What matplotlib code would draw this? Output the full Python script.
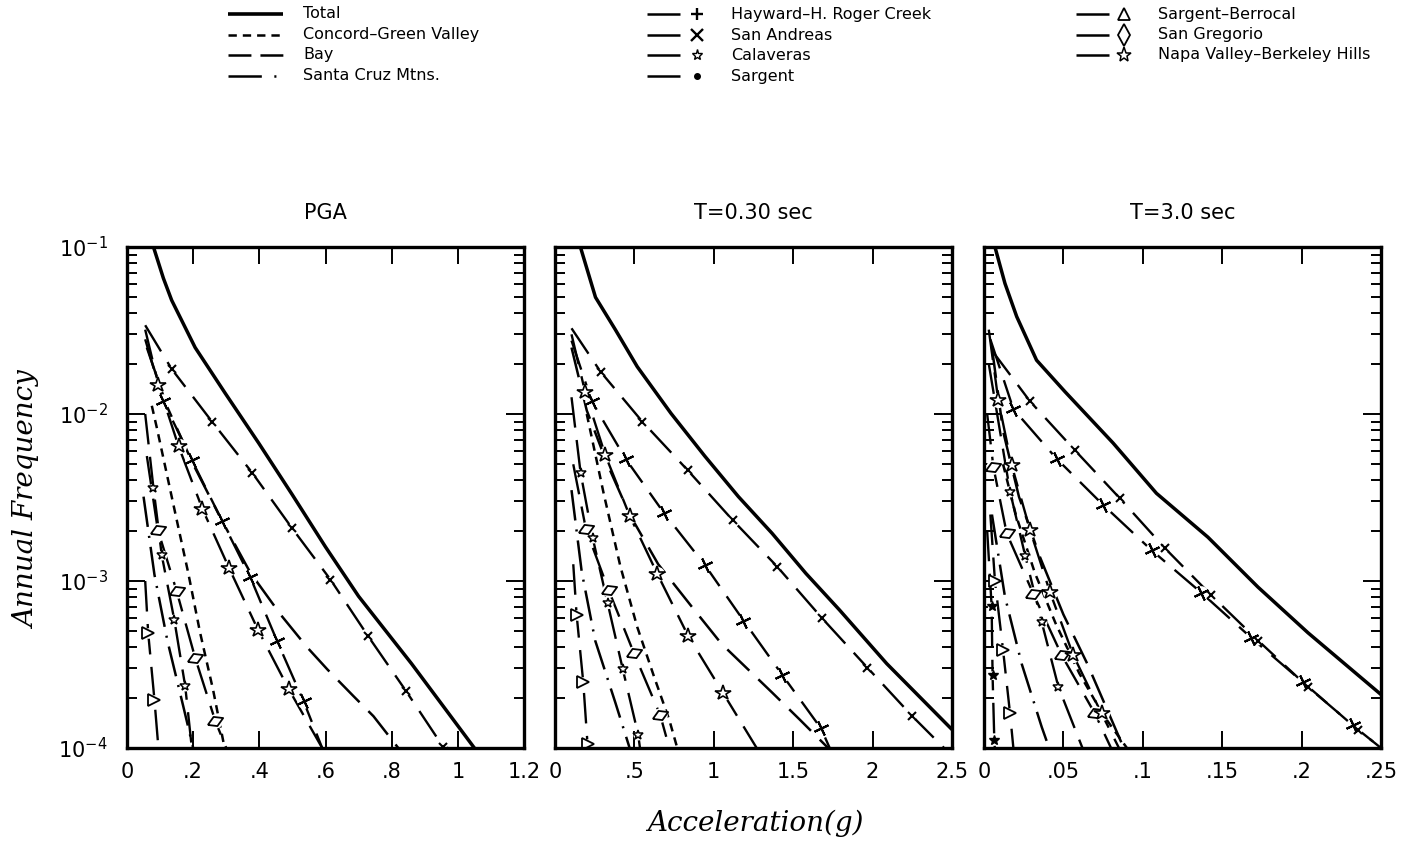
import numpy as np
import matplotlib
matplotlib.use("Agg")
import matplotlib.pyplot as plt
from matplotlib.ticker import LogLocator, NullFormatter

plt.rcParams['lines.scale_dashes'] = False
plt.rcParams['font.family'] = ['DejaVu Sans']
plt.rcParams['mathtext.default'] = 'regular'

# ---------------------------------------------------------------- data
# Hazard curves: acceleration (g) against annual frequency of exceedance.

# PGA
PGA_TOTAL_ACC = [0.08, 0.11, 0.135, 0.206, 0.297, 0.398, 0.499, 0.60, 0.70, 0.86, 1.05]
PGA_TOTAL_FREQ = [1.0e-1, 6.5e-2, 4.8e-2, 2.5e-2, 1.33e-2, 6.7e-3, 3.3e-3, 1.6e-3, 8.1e-4, 3.2e-4, 1.0e-4]
PGA_HAYWARD_ACC = [0.055, 0.135, 0.257, 0.378, 0.499, 0.615, 0.728, 0.843, 0.955, 0.97]
PGA_HAYWARD_FREQ = [3.4e-2, 1.86e-2, 9.0e-3, 4.46e-3, 2.07e-3, 1.02e-3, 4.7e-4, 2.2e-4, 1.02e-4, 1.0e-4]
PGA_SANANDREAS_ACC = [0.055, 0.11, 0.196, 0.287, 0.373, 0.453, 0.534, 0.59]
PGA_SANANDREAS_FREQ = [2.8e-2, 1.19e-2, 5.3e-3, 2.3e-3, 1.05e-3, 4.4e-4, 1.9e-4, 1.0e-4]
PGA_NAPA_ACC = [0.055, 0.095, 0.156, 0.228, 0.309, 0.396, 0.489, 0.59]
PGA_NAPA_FREQ = [3.2e-2, 1.5e-2, 6.4e-3, 2.7e-3, 1.19e-3, 5.1e-4, 2.25e-4, 1.0e-4]
PGA_BAY_ACC = [0.06, 0.12, 0.20, 0.29, 0.373, 0.464, 0.545, 0.606, 0.685, 0.745, 0.82]
PGA_BAY_FREQ = [2.5e-2, 1.12e-2, 5.0e-3, 2.24e-3, 1.12e-3, 6.3e-4, 4.0e-4, 2.95e-4, 2.04e-4, 1.55e-4, 1.0e-4]
PGA_CONCORD_ACC = [0.075, 0.09, 0.146, 0.185, 0.221, 0.26, 0.295]
PGA_CONCORD_FREQ = [1.12e-2, 8.3e-3, 2.54e-3, 1.12e-3, 4.9e-4, 2.24e-4, 1.0e-4]
PGA_CALAVERAS_ACC = [0.055, 0.08, 0.105, 0.143, 0.176, 0.196]
PGA_CALAVERAS_FREQ = [1.0e-2, 3.6e-3, 1.43e-3, 5.85e-4, 2.34e-4, 1.0e-4]
PGA_GREGORIO_ACC = [0.06, 0.093, 0.15, 0.206, 0.267, 0.30]
PGA_GREGORIO_FREQ = [5.6e-3, 2.03e-3, 8.7e-4, 3.47e-4, 1.45e-4, 1.0e-4]
PGA_SANTACRUZ_ACC = [0.05, 0.083, 0.122, 0.17, 0.20]
PGA_SANTACRUZ_FREQ = [3.2e-3, 1.09e-3, 4.4e-4, 1.78e-4, 1.0e-4]
PGA_BERROCAL_ACC = [0.055, 0.064, 0.083, 0.095]
PGA_BERROCAL_FREQ = [1.0e-3, 4.9e-4, 1.94e-4, 1.0e-4]

# T = 0.30 sec
T03_TOTAL_ACC = [0.16, 0.255, 0.38, 0.518, 0.73, 0.943, 1.155, 1.367, 1.58, 1.792, 2.089, 2.5]
T03_TOTAL_FREQ = [1.0e-1, 5.0e-2, 3.2e-2, 1.92e-2, 1.01e-2, 5.6e-3, 3.2e-3, 1.93e-3, 1.11e-3, 6.7e-4, 3.2e-4, 1.29e-4]
T03_HAYWARD_ACC = [0.104, 0.287, 0.55, 0.836, 1.118, 1.399, 1.681, 1.967, 2.25, 2.45]
T03_HAYWARD_FREQ = [3.26e-2, 1.79e-2, 9.0e-3, 4.6e-3, 2.32e-3, 1.22e-3, 6.0e-4, 3.03e-4, 1.55e-4, 1.0e-4]
T03_SANANDREAS_ACC = [0.104, 0.232, 0.444, 0.688, 0.943, 1.187, 1.431, 1.675, 1.73]
T03_SANANDREAS_FREQ = [2.75e-2, 1.19e-2, 5.4e-3, 2.54e-3, 1.25e-3, 5.8e-4, 2.74e-4, 1.31e-4, 1.0e-4]
T03_NAPA_ACC = [0.104, 0.19, 0.316, 0.471, 0.645, 0.838, 1.059, 1.27]
T03_NAPA_FREQ = [3.0e-2, 1.35e-2, 5.7e-3, 2.45e-3, 1.1e-3, 4.7e-4, 2.13e-4, 1.0e-4]
T03_BAY_ACC = [0.104, 0.20, 0.33, 0.47, 0.65, 0.878, 1.049, 1.178, 1.369, 1.541, 1.72]
T03_BAY_FREQ = [2.5e-2, 1.05e-2, 5.0e-3, 2.5e-3, 1.26e-3, 6.7e-4, 4.2e-4, 3.2e-4, 2.14e-4, 1.48e-4, 1.0e-4]
T03_CONCORD_ACC = [0.20, 0.306, 0.412, 0.518, 0.624, 0.72, 0.77]
T03_CONCORD_FREQ = [1.0e-2, 3.36e-3, 1.22e-3, 5.3e-4, 2.67e-4, 1.47e-4, 1.0e-4]
T03_CALAVERAS_ACC = [0.104, 0.161, 0.238, 0.331, 0.427, 0.524, 0.535]
T03_CALAVERAS_FREQ = [1.26e-2, 4.46e-3, 1.8e-3, 7.4e-4, 2.96e-4, 1.2e-4, 1.0e-4]
T03_GREGORIO_ACC = [0.115, 0.195, 0.338, 0.497, 0.662, 0.72]
T03_GREGORIO_FREQ = [5.0e-3, 2.04e-3, 8.8e-4, 3.7e-4, 1.58e-4, 1.0e-4]
T03_SANTACRUZ_ACC = [0.104, 0.168, 0.253, 0.38, 0.47]
T03_SANTACRUZ_FREQ = [3.5e-3, 1.14e-3, 4.4e-4, 1.87e-4, 1.0e-4]
T03_BERROCAL_ACC = [0.115, 0.136, 0.178, 0.205, 0.21]
T03_BERROCAL_FREQ = [1.26e-3, 6.3e-4, 2.47e-4, 1.05e-4, 1.0e-4]

# T = 3.0 sec
T30_TOTAL_ACC = [0.0069, 0.0132, 0.0206, 0.0331, 0.051, 0.0813, 0.1086, 0.141, 0.1725, 0.204, 0.25]
T30_TOTAL_FREQ = [1.0e-1, 6.05e-2, 3.83e-2, 2.1e-2, 1.36e-2, 6.7e-3, 3.35e-3, 1.83e-3, 9.2e-4, 4.9e-4, 2.09e-4]
T30_HAYWARD_ACC = [0.005, 0.029, 0.057, 0.0855, 0.114, 0.1432, 0.1726, 0.204, 0.2355, 0.25]
T30_HAYWARD_FREQ = [2.4e-2, 1.19e-2, 6.1e-3, 3.13e-3, 1.57e-3, 8.2e-4, 4.4e-4, 2.32e-4, 1.29e-4, 1.0e-4]
T30_SANANDREAS_ACC = [0.004, 0.0185, 0.0457, 0.0751, 0.1055, 0.1369, 0.1684, 0.2008, 0.2321, 0.25]
T30_SANANDREAS_FREQ = [2.8e-2, 1.07e-2, 5.4e-3, 2.85e-3, 1.53e-3, 8.5e-4, 4.56e-4, 2.48e-4, 1.37e-4, 1.0e-4]
T30_NAPA_ACC = [0.003, 0.009, 0.0174, 0.029, 0.0415, 0.0562, 0.074, 0.085]
T30_NAPA_FREQ = [3.2e-2, 1.21e-2, 4.95e-3, 2.02e-3, 8.6e-4, 3.6e-4, 1.61e-4, 1.0e-4]
T30_BAY_ACC = [0.005, 0.012, 0.022, 0.035, 0.05, 0.065, 0.078, 0.088]
T30_BAY_FREQ = [2.5e-2, 7.9e-3, 3.2e-3, 1.41e-3, 6.3e-4, 3.2e-4, 1.66e-4, 1.0e-4]
T30_CONCORD_ACC = [0.012, 0.02, 0.032, 0.045, 0.06, 0.075, 0.09]
T30_CONCORD_FREQ = [5.0e-3, 2.5e-3, 1.12e-3, 5.6e-4, 2.8e-4, 1.58e-4, 1.0e-4]
T30_CALAVERAS_ACC = [0.003, 0.0164, 0.026, 0.0363, 0.0468, 0.062]
T30_CALAVERAS_FREQ = [2.0e-2, 3.43e-3, 1.41e-3, 5.7e-4, 2.33e-4, 1.0e-4]
T30_GREGORIO_ACC = [0.002, 0.0059, 0.0143, 0.031, 0.0489, 0.0698, 0.08]
T30_GREGORIO_FREQ = [1.0e-2, 4.83e-3, 1.93e-3, 8.4e-4, 3.6e-4, 1.61e-4, 1.0e-4]
T30_SANTACRUZ_ACC = [0.005, 0.0132, 0.0237, 0.0363, 0.041]
T30_SANTACRUZ_FREQ = [2.5e-3, 8.05e-4, 3.2e-4, 1.34e-4, 1.0e-4]
T30_BERROCAL_ACC = [0.004, 0.0069, 0.012, 0.0164, 0.0185]
T30_BERROCAL_FREQ = [2.5e-3, 1.0e-3, 3.86e-4, 1.61e-4, 1.0e-4]
T30_SARGENT_ACC = [0.002, 0.0048, 0.0054, 0.0065, 0.0068]
T30_SARGENT_FREQ = [2.0e-3, 7.1e-4, 2.72e-4, 1.11e-4, 1.0e-4]

PANEL_TITLES = ["PGA", "T=0.30 sec", "T=3.0 sec"]
PANEL_XMAX = [1.2, 2.5, 0.25]
PANEL_XTICKS = [[0, 0.2, 0.4, 0.6, 0.8, 1.0, 1.2],
                [0, 0.5, 1.0, 1.5, 2.0, 2.5],
                [0, 0.05, 0.1, 0.15, 0.2, 0.25]]
PANEL_XTICKLABELS = [["0", ".2", ".4", ".6", ".8", "1", "1.2"],
                     ["0", ".5", "1", "1.5", "2", "2.5"],
                     ["0", ".05", ".1", ".15", ".2", ".25"]]
Y_TICKS = [1e-4, 1e-3, 1e-2, 1e-1]
Y_TICKLABELS = [r"$10^{-4}$", r"$10^{-3}$", r"$10^{-2}$", r"$10^{-1}$"]

LEGEND_COLUMNS = [
    ["total", "concord", "bay", "santacruz"],
    ["hayward", "sanandreas", "calaveras", "sargent"],
    ["berrocal", "gregorio", "napa"],
]
LEGEND_LABELS = {
    "total": "Total",
    "concord": "Concord\u2013Green Valley",
    "bay": "Bay",
    "santacruz": "Santa Cruz Mtns.",
    "hayward": "Hayward\u2013H. Roger Creek",
    "sanandreas": "San Andreas",
    "calaveras": "Calaveras",
    "sargent": "Sargent",
    "berrocal": "Sargent\u2013Berrocal",
    "gregorio": "San Gregorio",
    "napa": "Napa Valley\u2013Berkeley Hills",
}

# ---------------------------------------------------------------- styles
LONG = (0, (22, 9))
SHORT = (0, (6, 4.5))
DASHDOT = (0, (22, 6.5, 1.5, 6.5))
RHOMB = [(-1.0, -0.45), (0.25, -0.6), (1.0, 0.45), (-0.25, 0.6), (-1.0, -0.45)]

STYLE = {
    "total": dict(ls="-", lw=2.5),
    "concord": dict(ls=SHORT, lw=1.8),
    "bay": dict(ls=LONG, lw=1.8),
    "santacruz": dict(ls=DASHDOT, lw=1.8),
    "hayward": dict(ls=LONG, lw=1.7, marker="x", ms=6, mew=1.5, mfc="none"),
    "sanandreas": dict(ls=LONG, lw=1.7, marker=(4, 2, 25), ms=11, mew=1.5, mfc="none"),
    "calaveras": dict(ls=LONG, lw=1.7, marker="*", ms=7.5, mew=1.1, mfc="white"),
    "sargent": dict(ls=LONG, lw=1.7, marker="*", ms=7, mew=1.0, mfc="black"),
    "berrocal": dict(ls=LONG, lw=1.7, marker=">", ms=8, mew=1.3, mfc="white"),
    "gregorio": dict(ls=LONG, lw=1.7, marker=RHOMB, ms=11, mew=1.3, mfc="white"),
    "napa": dict(ls=LONG, lw=1.7, marker="*", ms=11.5, mew=1.2, mfc="white"),
}

PANELS = [
    {
        "total": (PGA_TOTAL_ACC, PGA_TOTAL_FREQ),
        "bay": (PGA_BAY_ACC, PGA_BAY_FREQ),
        "concord": (PGA_CONCORD_ACC, PGA_CONCORD_FREQ),
        "santacruz": (PGA_SANTACRUZ_ACC, PGA_SANTACRUZ_FREQ),
        "hayward": (PGA_HAYWARD_ACC, PGA_HAYWARD_FREQ),
        "sanandreas": (PGA_SANANDREAS_ACC, PGA_SANANDREAS_FREQ),
        "calaveras": (PGA_CALAVERAS_ACC, PGA_CALAVERAS_FREQ),
        "berrocal": (PGA_BERROCAL_ACC, PGA_BERROCAL_FREQ),
        "gregorio": (PGA_GREGORIO_ACC, PGA_GREGORIO_FREQ),
        "napa": (PGA_NAPA_ACC, PGA_NAPA_FREQ),
    },
    {
        "total": (T03_TOTAL_ACC, T03_TOTAL_FREQ),
        "bay": (T03_BAY_ACC, T03_BAY_FREQ),
        "concord": (T03_CONCORD_ACC, T03_CONCORD_FREQ),
        "santacruz": (T03_SANTACRUZ_ACC, T03_SANTACRUZ_FREQ),
        "hayward": (T03_HAYWARD_ACC, T03_HAYWARD_FREQ),
        "sanandreas": (T03_SANANDREAS_ACC, T03_SANANDREAS_FREQ),
        "calaveras": (T03_CALAVERAS_ACC, T03_CALAVERAS_FREQ),
        "berrocal": (T03_BERROCAL_ACC, T03_BERROCAL_FREQ),
        "gregorio": (T03_GREGORIO_ACC, T03_GREGORIO_FREQ),
        "napa": (T03_NAPA_ACC, T03_NAPA_FREQ),
    },
    {
        "total": (T30_TOTAL_ACC, T30_TOTAL_FREQ),
        "bay": (T30_BAY_ACC, T30_BAY_FREQ),
        "concord": (T30_CONCORD_ACC, T30_CONCORD_FREQ),
        "santacruz": (T30_SANTACRUZ_ACC, T30_SANTACRUZ_FREQ),
        "hayward": (T30_HAYWARD_ACC, T30_HAYWARD_FREQ),
        "sanandreas": (T30_SANANDREAS_ACC, T30_SANANDREAS_FREQ),
        "calaveras": (T30_CALAVERAS_ACC, T30_CALAVERAS_FREQ),
        "sargent": (T30_SARGENT_ACC, T30_SARGENT_FREQ),
        "berrocal": (T30_BERROCAL_ACC, T30_BERROCAL_FREQ),
        "gregorio": (T30_GREGORIO_ACC, T30_GREGORIO_FREQ),
        "napa": (T30_NAPA_ACC, T30_NAPA_FREQ),
    },
]

# ---------------------------------------------------------------- figure
W, H = 1406, 842
fig = plt.figure(figsize=(W / 100, H / 100), dpi=100)

AX_LEFT_PX = [127, 555, 984]
AX_WIDTH_PX = 397
AX_TOP_PX, AX_BOTTOM_PX = 247, 748


def draw_curve(ax, key, acc, freq):
    st = STYLE[key]
    acc = np.asarray(acc)
    freq = np.asarray(freq)
    ax.plot(acc, freq, color="black", ls=st["ls"], lw=st["lw"],
            solid_capstyle="butt", dash_capstyle="butt", zorder=2)
    if "marker" in st and len(acc) > 2:
        inner = slice(1, -1)
        # white clearing behind each symbol so the dashes break around it
        ax.plot(acc[inner], freq[inner], ls="none", marker="o",
                ms=st["ms"] * 0.95, mfc="white", mec="none", zorder=2.1)
        ax.plot(acc[inner], freq[inner], ls="none", marker=st["marker"],
                ms=st["ms"], mew=st["mew"], mfc=st["mfc"], mec="black",
                zorder=2.2)


for i in range(3):
    left = AX_LEFT_PX[i] / W
    bottom = (H - AX_BOTTOM_PX) / H
    ax = fig.add_axes([left, bottom, AX_WIDTH_PX / W, (AX_BOTTOM_PX - AX_TOP_PX) / H])
    for key, (acc, freq) in PANELS[i].items():
        draw_curve(ax, key, acc, freq)

    ax.set_yscale("log")
    ax.set_ylim(1e-4, 1e-1)
    ax.set_xlim(0, PANEL_XMAX[i])
    ax.set_xticks(PANEL_XTICKS[i])
    ax.set_xticklabels(PANEL_XTICKLABELS[i])
    ax.set_yticks(Y_TICKS)
    ax.set_yticklabels(Y_TICKLABELS)
    ax.yaxis.set_minor_locator(LogLocator(base=10, subs=np.arange(2, 10)))
    ax.yaxis.set_minor_formatter(NullFormatter())

    ax.tick_params(axis="both", which="both", direction="in",
                   top=True, right=True, width=1.4, colors="black")
    ax.tick_params(axis="x", which="major", length=12, labelsize=15, pad=10)
    ax.tick_params(axis="y", which="major", length=13, labelsize=15, pad=14)
    ax.tick_params(axis="y", which="minor", length=7)
    if i > 0:
        ax.tick_params(axis="y", which="both", labelleft=False)
    for sp in ax.spines.values():
        sp.set_linewidth(2.4)
        sp.set_zorder(3)

    ax.set_title(PANEL_TITLES[i], fontsize=15, pad=20)

fig.text(28 / W, (H - 500) / H, "Annual Frequency", rotation=90,
         family="DejaVu Serif", style="italic", fontsize=20,
         ha="center", va="center")
fig.text(755 / W, (H - 823) / H, "Acceleration(g)",
         family="DejaVu Serif", style="italic", fontsize=20,
         ha="center", va="center")

# ---------------------------------------------------------------- legend
lg = fig.add_axes([0, 0, 1, 1])
lg.set_xlim(0, W)
lg.set_ylim(H, 0)
lg.axis("off")

ROW_Y = [14, 35, 55, 76]
# column layout: (line start, line end, symbol x, text x)
COL_GEOM = [(228, 283, None, 303), (647, 680, 697, 731), (1076, 1109, 1124, 1158)]
LEGEND_LS = {
    "total": "-",
    "concord": (0, (6, 4.3)),
    "bay": (0, (16.5, 6.5)),
    "santacruz": (0, (24, 9, 1.5, 30)),
}
LEGEND_MARKER = {
    "hayward": dict(marker="+", ms=9, mew=1.7, mfc="none"),
    "sanandreas": dict(marker="x", ms=8, mew=1.7, mfc="none"),
    "calaveras": dict(marker="*", ms=8, mew=1.0, mfc="white"),
    "sargent": dict(marker="o", ms=4, mew=1.0, mfc="black"),
    "berrocal": dict(marker="^", ms=8, mew=1.3, mfc="white"),
    "gregorio": dict(marker="d", ms=11, mew=1.3, mfc="white"),
    "napa": dict(marker="*", ms=11, mew=1.1, mfc="white"),
}

for c, keys in enumerate(LEGEND_COLUMNS):
    x0, x1, xm, xt = COL_GEOM[c]
    for r, key in enumerate(keys):
        y = ROW_Y[r]
        ls = LEGEND_LS.get(key, "-")
        lw = 2.6 if key == "total" else 1.8
        lg.plot([x0, x1], [y, y], color="black", ls=ls, lw=lw,
                dash_capstyle="butt", solid_capstyle="butt")
        if key in LEGEND_MARKER and xm is not None:
            m = LEGEND_MARKER[key]
            lg.plot([xm], [y], ls="none", marker=m["marker"], ms=m["ms"],
                    mew=m["mew"], mfc=m["mfc"], mec="black")
        lg.text(xt, y, LEGEND_LABELS[key], fontsize=11.5, ha="left",
                va="center")

fig.savefig("out.png", dpi=100)
